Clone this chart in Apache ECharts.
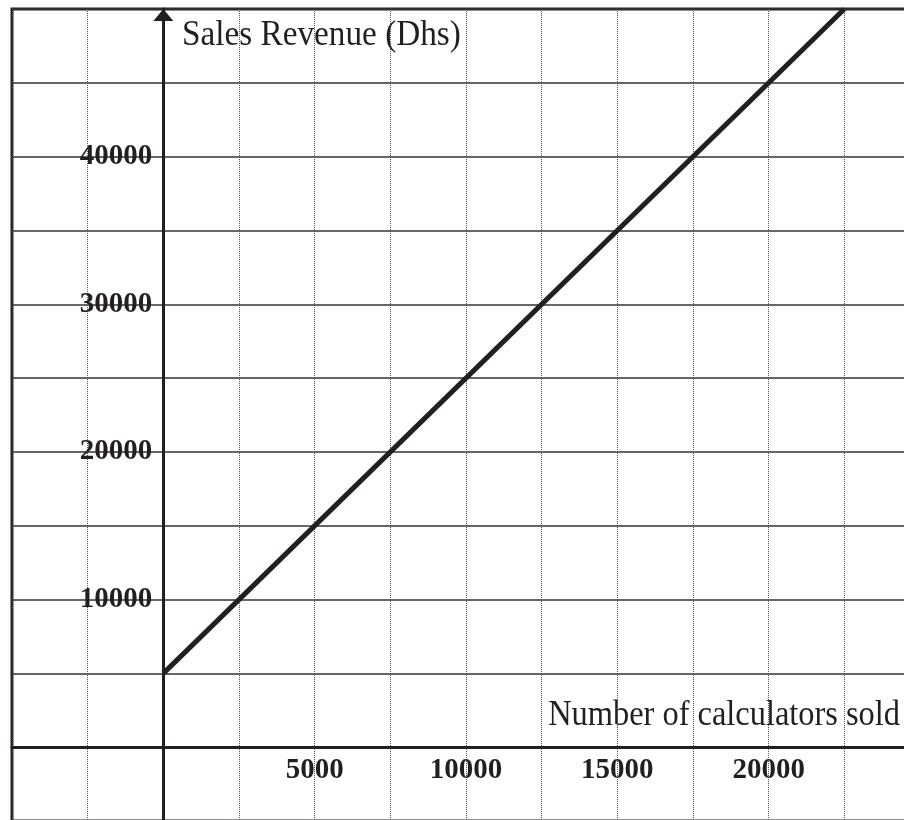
<!DOCTYPE html>
<html>
<head>
<meta charset="utf-8">
<title>Sales Revenue vs Calculators Sold</title>
<script src="https://cdn.jsdelivr.net/npm/echarts@6/dist/echarts.min.js"></script>
<style>
  html, body { margin: 0; padding: 0; background: #ffffff; }
  #chart { width: 904px; height: 820px; }
</style>
</head>
<body>
<div id="chart"></div>
<script>
// Revenue line: units sold (x) against sales revenue in Dhs (y)
const unitsSold = [0, 22500];
const revenue = [5000, 50000];

// Labelled ticks on each axis
const xTickLabels = [5000, 10000, 15000, 20000];
const yTickLabels = [10000, 20000, 30000, 40000];

const yTitle = 'Sales Revenue (Dhs)';
const xTitle = 'Number of calculators sold';

const ink = '#231f20';
const serif = '"Liberation Serif", "Times New Roman", serif';

// Plot frame (pixels) and axis ranges; the frame runs past the right and bottom edges
const GRID = { left: 12, top: 9, width: 908, height: 812 };
const X_MIN = -5000, X_MAX = 25000;
const Y_MIN = -5000, Y_MAX = 50000;

// The axes cross at the origin, inside the frame: shift them there from the frame edges
const yAxisShift = -GRID.width * (0 - X_MIN) / (X_MAX - X_MIN);
const xAxisShift = -GRID.height * (0 - Y_MIN) / (Y_MAX - Y_MIN);

const chart = echarts.init(document.getElementById('chart'), null, { renderer: 'canvas' });

chart.setOption({
  backgroundColor: '#ffffff',
  animation: false,
  grid: {
    left: GRID.left,
    top: GRID.top,
    width: GRID.width,
    height: GRID.height,
    containLabel: false,
    outerBoundsMode: 'none',
    show: true,
    borderColor: ink,
    borderWidth: 3,
    backgroundColor: 'transparent'
  },
  xAxis: {
    type: 'value',
    min: X_MIN,
    max: X_MAX,
    interval: 2500,
    position: 'bottom',
    offset: xAxisShift,
    axisLine: {
      onZero: false,
      lineStyle: { color: ink, width: 3 }
    },
    axisTick: { show: false },
    axisLabel: {
      margin: 9,
      fontFamily: serif,
      fontWeight: 'bold',
      fontSize: 29,
      color: ink,
      showMinLabel: true,
      showMaxLabel: true,
      hideOverlap: false,
      formatter: v => (xTickLabels.indexOf(Number(v)) >= 0 ? String(v) : '')
    },
    splitLine: {
      show: true,
      lineStyle: { color: '#555', width: 1, type: 'dotted' }
    }
  },
  yAxis: {
    type: 'value',
    min: Y_MIN,
    max: Y_MAX,
    interval: 5000,
    position: 'left',
    offset: yAxisShift,
    axisLine: {
      onZero: false,
      symbol: ['none', 'triangle'],
      symbolSize: [20, 12],
      symbolOffset: [0, -6],
      lineStyle: { color: ink, width: 3 }
    },
    axisTick: { show: false },
    axisLabel: {
      margin: 11,
      fontFamily: serif,
      fontWeight: 'bold',
      fontSize: 29,
      color: ink,
      showMinLabel: true,
      showMaxLabel: true,
      hideOverlap: false,
      formatter: v => (yTickLabels.indexOf(Number(v)) >= 0 ? String(v) : '')
    },
    splitLine: {
      show: true,
      lineStyle: { color: '#333', width: 1.5, type: 'solid' }
    }
  },
  graphic: [
    {
      type: 'text',
      x: 182,
      y: 18,
      scaleX: 0.95,
      style: {
        text: yTitle,
        font: '35px ' + serif,
        fill: ink,
        align: 'left',
        verticalAlign: 'top'
      }
    },
    {
      type: 'text',
      x: 900,
      y: 698,
      scaleX: 0.9,
      style: {
        text: xTitle,
        font: '36px ' + serif,
        fill: ink,
        align: 'right',
        verticalAlign: 'top'
      }
    }
  ],
  series: [
    {
      type: 'line',
      data: unitsSold.map((x, i) => [x, revenue[i]]),
      showSymbol: false,
      clip: false,
      lineStyle: { color: ink, width: 5 },
      z: 5
    }
  ]
});
</script>
</body>
</html>
